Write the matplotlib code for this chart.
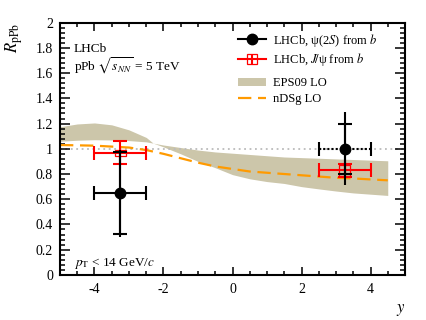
import matplotlib
matplotlib.use('Agg')
import matplotlib.pyplot as plt
from matplotlib.patches import Rectangle, Patch
from matplotlib.lines import Line2D
from matplotlib.legend_handler import HandlerTuple
from matplotlib.ticker import MultipleLocator, FormatStrFormatter

plt.rcParams['font.family'] = ['Liberation Serif', 'DejaVu Serif']
plt.rcParams['mathtext.fontset'] = 'stix'
plt.rcParams['axes.unicode_minus'] = False

# psi(2S) from b
psi2s_y = [-3.25, 3.25]
psi2s_r = [0.648, 1.0]
psi2s_xerr = [0.75, 0.75]
psi2s_stat = [0.325, 0.20]
psi2s_tot = [0.345, 0.29]

# J/psi from b
jpsi_y = [-3.25, 3.25]
jpsi_r = [0.968, 0.828]
jpsi_xerr = [0.75, 0.75]
jpsi_stat = [0.09, 0.05]
jpsi_syst = [0.025, 0.043]
jpsi_boxw = [0.15, 0.165]

# EPS09 LO band
eps_y = [-5, -4.5, -4, -3.5, -3, -2.5, -2.3, -2, -1.5, -1, -0.5, 0, 0.5,
         1, 1.5, 2, 2.5, 3, 3.5, 4, 4.5]
eps_hi = [1.175, 1.197, 1.205, 1.19, 1.15, 1.09, 1.045, 1.03, 1.01, 0.99,
          0.975, 0.965, 0.955, 0.945, 0.935, 0.93, 0.925, 0.92, 0.915, 0.91, 0.905]
eps_lo = [1.06, 1.068, 1.072, 1.07, 1.065, 1.055, 1.045, 1.015, 0.96, 0.90,
          0.85, 0.795, 0.762, 0.74, 0.725, 0.70, 0.682, 0.665, 0.65, 0.64, 0.63]

# nDSg LO curve
ndsg_y = [-5, -4, -3, -2.5, -2, -1.5, -1, -0.5, 0, 0.5, 1, 1.5, 2, 2.5, 3,
          3.5, 4, 4.5]
ndsg_r = [1.03, 1.025, 1.01, 0.99, 0.96, 0.925, 0.89, 0.86, 0.84, 0.82,
          0.81, 0.80, 0.79, 0.78, 0.77, 0.765, 0.757, 0.75]

band_color = '#CCC6AA'
orange = '#FF9A00'

fig = plt.figure(figsize=(4.27, 3.2), dpi=100)
ax = fig.add_axes([0.1405, 0.141, 0.808, 0.788])
ax.set_xlim(-5, 5)
ax.set_ylim(0, 2)

ax.fill_between(eps_y, eps_lo, eps_hi, color=band_color, lw=0, zorder=1)
ax.plot(ndsg_y, ndsg_r, color=orange, lw=1.6, dashes=(6, 3), zorder=2)
ax.axhline(1.0, color='#BBBBBB', lw=1.3, ls=(0, (1, 2)), zorder=1.5)

# J/psi points (red) with syst boxes
for yy, rr, w, s in zip(jpsi_y, jpsi_r, jpsi_boxw, jpsi_syst):
    ax.add_patch(Rectangle((yy - w, rr - s), 2 * w, 2 * s, fill=False,
                           edgecolor='red', lw=0.9, zorder=3))
ax.errorbar(jpsi_y, jpsi_r, xerr=jpsi_xerr, yerr=jpsi_stat, fmt='none',
            ecolor='red', elinewidth=1.5, capsize=5, capthick=1.5, zorder=3)

# psi(2S) points (black)
ax.errorbar(psi2s_y, psi2s_r, yerr=psi2s_tot, fmt='none', ecolor='black',
            elinewidth=1.5, capsize=0, zorder=4)
ax.errorbar(psi2s_y, psi2s_r, yerr=psi2s_stat, fmt='none', ecolor='black',
            elinewidth=1.5, capsize=5, capthick=1.5, zorder=4)
ax.errorbar(psi2s_y[:1], psi2s_r[:1], xerr=psi2s_xerr[:1], fmt='none',
            ecolor='black', elinewidth=1.5, capsize=5, capthick=1.5, zorder=4)
eb = ax.errorbar(psi2s_y[1:], psi2s_r[1:], xerr=psi2s_xerr[1:], fmt='none',
                 ecolor='black', elinewidth=1.5, capsize=5, capthick=1.5, zorder=4)
eb[2][0].set_linestyle((0, (1, 1)))
ax.plot(psi2s_y, psi2s_r, 'o', color='black', ms=7.5, zorder=5)

# axes style
ax.xaxis.set_major_locator(MultipleLocator(2))
ax.xaxis.set_minor_locator(MultipleLocator(0.5))
ax.yaxis.set_major_locator(MultipleLocator(0.2))
ax.yaxis.set_minor_locator(MultipleLocator(0.04))
ax.yaxis.set_major_formatter(FormatStrFormatter('%g'))
ax.tick_params(which='both', direction='in', top=True, right=True, width=1.1,
               labelsize=10)
ax.tick_params(axis='y', which='major', length=7, pad=5)
ax.tick_params(axis='y', which='minor', length=3.5)
ax.tick_params(axis='x', which='major', length=5.5, pad=6)
ax.tick_params(axis='x', which='minor', length=3)
for sp in ax.spines.values():
    sp.set_linewidth(1.5)

ax.set_ylabel(r'$R_{\rm pPb}$', fontsize=12, loc='top', labelpad=8)
ax.set_xlabel(r'$y$', fontsize=12, loc='right', labelpad=4)

ax.text(0.04, 0.885, 'LHCb', transform=ax.transAxes, fontsize=9.5)
ax.text(0.04, 0.81, r'pPb $\sqrt{s_{NN}}$ = 5 TeV', transform=ax.transAxes,
        fontsize=9.5)
ax.text(0.04, 0.035, r'$p_{\rm T}$ < 14 GeV/$c$', transform=ax.transAxes,
        fontsize=9.5)

# legends
h_psi = (Line2D([], [], color='black', lw=1.5),
         Line2D([], [], color='black', marker='o', ms=7.5, ls='none'))
h_jpsi = (Line2D([], [], color='red', lw=1.5),
          Line2D([], [], color='red', marker='s', ms=7, mfc='none', mew=0.9, ls='none'),
          Line2D([], [], color='red', marker='|', ms=7, mew=1.5, ls='none'))
leg1 = ax.legend([h_psi, h_jpsi],
                 [r'LHCb, ψ(2$S$) from $b$', r'LHCb, $J\!/$ψ from $b$'],
                 handler_map={tuple: HandlerTuple(ndivide=1)},
                 loc='upper left', bbox_to_anchor=(0.515, 0.965), frameon=False,
                 fontsize=9, handlelength=2.3, handletextpad=0.5,
                 labelspacing=0.2, borderpad=0, borderaxespad=0)
ax.add_artist(leg1)
h_eps = Patch(facecolor=band_color, edgecolor='none')
h_ndsg = Line2D([], [], color=orange, lw=1.6, dashes=(6, 3))
ax.legend([h_eps, h_ndsg], ['EPS09 LO', 'nDSg LO'], loc='upper left',
          bbox_to_anchor=(0.515, 0.783), frameon=False, fontsize=9,
          handlelength=2.3, handletextpad=0.5, labelspacing=0.3,
          borderpad=0, borderaxespad=0)

fig.savefig('out.png', dpi=100, facecolor='white')
